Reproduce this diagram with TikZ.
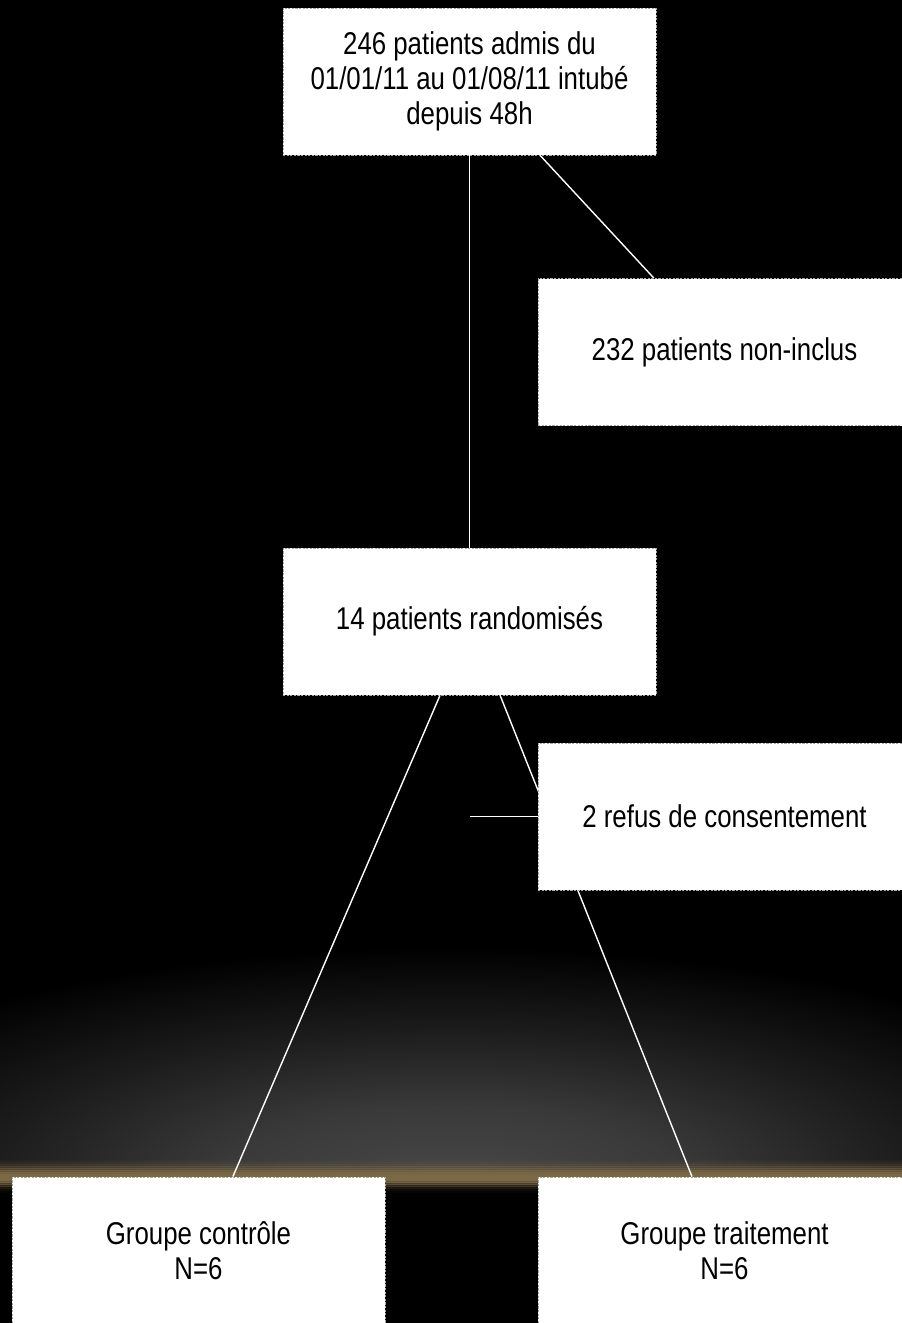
\documentclass[tikz,border=0pt]{standalone}
\usepackage{fontspec}
\setmainfont[FakeStretch=0.82]{Liberation Sans}
\usetikzlibrary{calc}
\definecolor{gold}{RGB}{245,210,140}
\definecolor{glow}{RGB}{72,72,72}
\pgfdeclareradialshading{glowsh}{\pgfpoint{0bp}{0bp}}{color(0bp)=(glow); color(8bp)=(glow!80!black); color(16bp)=(glow!40!black); color(25bp)=(black); color(50bp)=(black)}
\tikzset{
  box/.style={draw=gray!70, dash pattern=on 2.2pt off 1.4pt, line width=0.9pt, fill=white,
    minimum width=373pt, minimum height=147pt, inner sep=0pt, align=center,
    font=\fontsize{31.5}{35}\selectfont, text=black},
  link/.style={draw=white, line width=1.4pt}
}
\begin{document}
\begin{tikzpicture}[x=1pt,y=-1pt]
\useasboundingbox (0,0) rectangle (902,1323);
\clip (0,0) rectangle (902,1323);
\fill[black] (0,0) rectangle (902,1323);
% glow
\begin{scope}
\clip (0,0) rectangle (902,1177);
\shade[shading=glowsh] (451,1182) ellipse [x radius=720, y radius=235];
\end{scope}
\foreach \yy/\op in {1160/0.06,1162/0.12,1164/0.22,1166/0.35,1168/0.5,1170/0.7,1172/0.88,1174/1,1176/1,1178/1,1180/0.85,1182/0.6,1184/0.38,1186/0.2,1188/0.1,1190/0.04}
  \shade[left color=gold!50!black, middle color=gold, right color=gold!50!black, fill opacity=\op] (0,\yy) rectangle (902,\yy+2);

% nodes
\node[box] (b1) at (469.5,81.5) {246 patients admis du\\01/01/11 au 01/08/11 intubé\\depuis 48h};
\node[box] (b2) at (724.5,352) {232 patients non-inclus};
\node[box] (b3) at (469.5,621.5) {14 patients randomisés};
\node[box] (b5) at (198.5,1250.5) {Groupe contrôle\\N=6};
\node[box] (b6) at (724.5,1250.5) {Groupe traitement\\N=6};

% connectors
\coordinate (b1a) at ($(b1.south west)!0.689!(b1.south east)$);
\coordinate (b2a) at ($(b2.north west)!0.311!(b2.north east)$);
\coordinate (b3l) at ($(b3.south west)!0.421!(b3.south east)$);
\coordinate (b3r) at ($(b3.south west)!0.582!(b3.south east)$);
\coordinate (b5a) at ($(b5.north west)!0.592!(b5.north east)$);
\coordinate (b6a) at ($(b6.north west)!0.413!(b6.north east)$);
\draw[link] (b1.south) -- (b3.north);
\draw[link] (b1a) -- (b2a);
\draw[link] (b3l) -- (b5a);
\draw[link] (b3r) -- (b6a);
\node[box] (b4) at (724.5,816.5) {2 refus de consentement};
\coordinate (h) at (470,816.5);
\draw[link] (h) -- (b4.west);
\end{tikzpicture}
\end{document}
